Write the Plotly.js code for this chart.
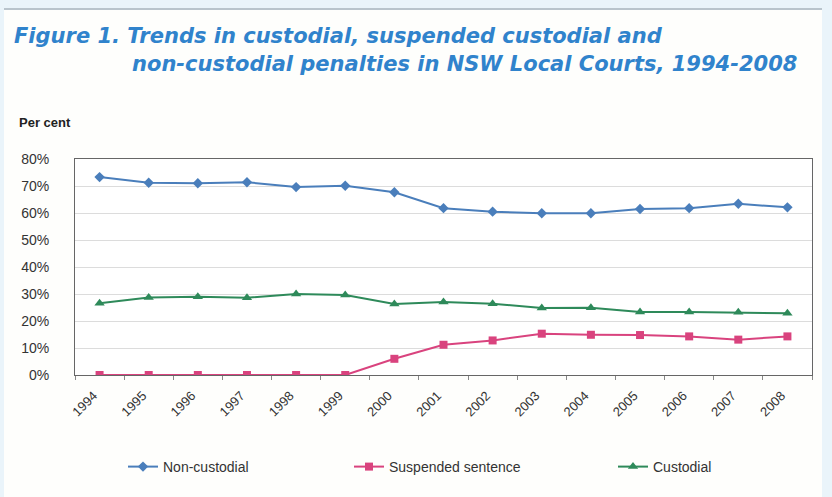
<!DOCTYPE html>
<html>
<head>
<meta charset="utf-8">
<script src="https://cdn.plot.ly/plotly-3.0.1.min.js"></script>
<style>
  html, body { margin: 0; padding: 0; }
  #wrap { position: relative; width: 832px; height: 497px; background: #eaf4fa; overflow: hidden; }
  #inner { position: absolute; left: 4px; top: 8px; width: 818px; height: 489px; background: #fefefc; border-top: 2px solid #b9c4cc; }
  #chart { position: absolute; left: 0; top: 0; width: 832px; height: 497px; }
</style>
</head>
<body>
<div id="wrap"><div id="inner"></div><div id="chart"></div></div>
<script>
const years = ['1994','1995','1996','1997','1998','1999','2000','2001','2002','2003','2004','2005','2006','2007','2008'];
const nonCustodial = [73.3, 71.2, 71.0, 71.4, 69.6, 70.1, 67.7, 61.8, 60.5, 59.9, 59.9, 61.5, 61.8, 63.4, 62.1];
const suspended    = [0, 0, 0, 0, 0, 0, 6.0, 11.2, 12.8, 15.3, 14.9, 14.8, 14.3, 13.1, 14.3];
const custodial    = [26.6, 28.7, 29.0, 28.6, 30.0, 29.6, 26.3, 27.0, 26.4, 24.8, 24.9, 23.3, 23.3, 23.2, 22.9];
const yTicks = [0, 10, 20, 30, 40, 50, 60, 70, 80];

const L = 75, R = 812, T = 159, B = 375, W = 832, H = 497;
const px = x => (x - L) / (R - L);
const py = y => (B - y) / (B - T);
const cx = x => x / W;
const cy = y => 1 - y / H;

const traces = [
  { x: years, y: nonCustodial, name: 'Non-custodial', type: 'scatter', mode: 'lines+markers',
    line: { color: '#4a7ebb', width: 2 }, marker: { symbol: 'diamond', size: 8, color: '#4a7ebb' }, legend: 'legend' },
  { x: years, y: suspended, name: 'Suspended sentence', type: 'scatter', mode: 'lines+markers',
    line: { color: '#d9437e', width: 2 }, marker: { symbol: 'square', size: 8, color: '#d9437e' }, legend: 'legend2' },
  { x: years, y: custodial, name: 'Custodial', type: 'scatter', mode: 'lines+markers',
    line: { color: '#2e8a5a', width: 2 }, marker: { symbol: 'triangle-up', size: 9, color: '#2e8a5a' }, legend: 'legend3' }
];

const titleFont = { family: 'DejaVu Sans, sans-serif', size: 21, color: '#3083cc', weight: 'bold', style: 'italic' };
const legFont = { family: 'Liberation Sans, Arial, sans-serif', size: 14, color: '#333' };
const legBase = { orientation: 'h', xref: 'container', yref: 'container', yanchor: 'middle', y: cy(467), xanchor: 'left', bgcolor: 'rgba(0,0,0,0)', font: legFont };

const layout = {
  width: W, height: H,
  margin: { l: L, r: W - R, t: T, b: H - B, pad: 0, autoexpand: false },
  paper_bgcolor: 'rgba(0,0,0,0)',
  plot_bgcolor: '#ffffff',
  font: { family: 'Liberation Sans, Arial, sans-serif', color: '#333' },
  showlegend: true,
  legend:  Object.assign({}, legBase, { x: cx(123) }),
  legend2: Object.assign({}, legBase, { x: cx(349) }),
  legend3: Object.assign({}, legBase, { x: cx(613) }),
  xaxis: {
    type: 'category', categoryarray: years, range: [-0.5, 14.5], tickangle: -45, tickson: 'boundaries', automargin: false,
    ticks: 'outside', ticklen: 4, tickcolor: '#888', ticklabelstandoff: 7, ticklabelshift: -6,
    tickfont: { size: 13, color: '#333' },
    showline: true, linecolor: '#666', linewidth: 1, mirror: true, showgrid: false, zeroline: false
  },
  yaxis: {
    range: [0, 80], tickvals: yTicks, ticktext: yTicks.map(v => v + '%'), automargin: false,
    tickfont: { size: 14, color: '#333' }, ticklabelstandoff: 22,
    showgrid: true, gridcolor: '#dcdcdc', gridwidth: 1,
    showline: true, linecolor: '#666', linewidth: 1, mirror: true, zeroline: false, ticks: ''
  },
  annotations: [
    { xref: 'paper', yref: 'paper', x: px(12), y: py(50), xanchor: 'left', yanchor: 'bottom', showarrow: false,
      text: 'Figure 1. Trends in custodial, suspended custodial and', font: titleFont },
    { xref: 'paper', yref: 'paper', x: px(130), y: py(78), xanchor: 'left', yanchor: 'bottom', showarrow: false,
      text: 'non-custodial penalties in NSW Local Courts, 1994-2008', font: titleFont },
    { xref: 'paper', yref: 'paper', x: px(17), y: py(122), xanchor: 'left', yanchor: 'middle', showarrow: false,
      text: '<b>Per cent</b>', font: { size: 13, color: '#222' } }
  ]
};

Plotly.newPlot('chart', traces, layout, { displayModeBar: false, staticPlot: true });
</script>
</body>
</html>
